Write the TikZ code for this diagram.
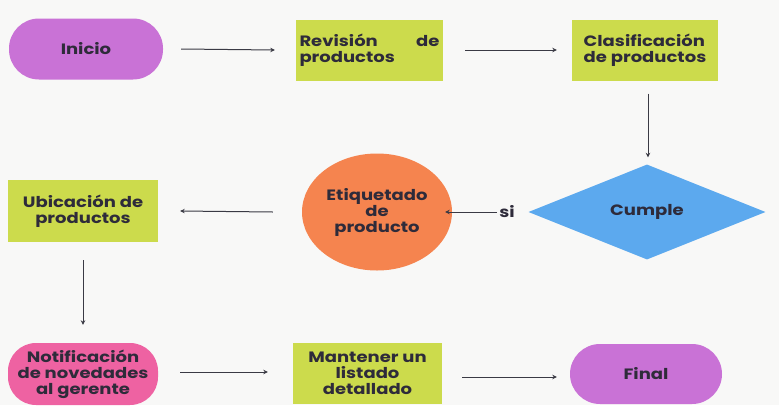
\documentclass[tikz,border=0pt]{standalone}
\usepackage{fontspec}
\setmainfont{Poppins}[FakeStretch=1.2]
\usetikzlibrary{shapes.geometric,arrows.meta}
\definecolor{bgc}{HTML}{F8F8F7}
\definecolor{purp}{HTML}{C972D6}
\definecolor{pinkc}{HTML}{EE62A2}
\definecolor{limec}{HTML}{CCDB4C}
\definecolor{orangec}{HTML}{F5844F}
\definecolor{bluec}{HTML}{5CA9EE}
\definecolor{txt}{HTML}{2E2B3A}
\definecolor{linec}{HTML}{3A3A44}
\begin{document}
\begin{tikzpicture}[x=1pt,y=-1pt,
  every node/.style={font=\fontsize{15}{16}\selectfont\bfseries, text=txt, inner sep=0pt},
  stadium/.style={draw=none, rectangle, rounded corners=30pt, minimum height=61pt},
  boxc/.style={draw=none, fill=limec, rectangle, minimum height=61pt},
  arr/.style={draw=linec, line width=1pt, -{Stealth[length=4.5pt,width=4.5pt]}}]
\fill[bgc] (0,0) rectangle (779,405);
\useasboundingbox (0,0) rectangle (779,405);

\node[stadium, fill=purp, minimum width=154pt] (inicio) at (86,49) {Inicio};
\node[boxc, minimum width=147pt] (revision) at (369.5,50) {\parbox{140pt}{Revisión\hfill de\\productos}};
\node[boxc, minimum width=146pt, align=left] (clasif) at (645,50) {Clasificación\\de productos};
\node[diamond, fill=bluec, minimum width=237pt, minimum height=95pt, shape aspect=2.5] (cumple) at (647,212) {Cumple};
\node (si) at (507,212) {si};
\node[ellipse, fill=orangec, minimum width=150pt, minimum height=117pt, align=center] (etiq) at (377,212) {Etiquetado\\de\\producto};
\node[boxc, minimum width=150pt, minimum height=62pt, align=center] (ubic) at (83,211) {Ubicación de\\productos};
\node[stadium, fill=pinkc, minimum width=150pt, minimum height=62pt, rounded corners=28pt, align=center] (notif) at (83,374) {Notificación\\de novedades\\al gerente};
\node[boxc, minimum width=149pt, align=center] (mant) at (367.5,373) {Mantener un\\listado\\detallado};
\node[stadium, fill=purp, minimum width=152pt, minimum height=60pt] (final) at (646,374) {Final};

\draw[arr] ([xshift=18pt]inicio.east) -- ([xshift=-21pt]revision.west);
\draw[arr] ([xshift=22pt]revision.east) -- ([xshift=-15pt]clasif.west);
\draw[arr] ([xshift=3pt,yshift=-13pt]clasif.south) -- ([xshift=1pt,yshift=7pt]cumple.north);
\draw[arr] ([xshift=-10pt]si.center) -- ([xshift=-7pt]etiq.east);
\draw[arr] ([xshift=-29pt]etiq.west) -- ([xshift=22pt]ubic.east);
\draw[arr] ([yshift=-18pt]ubic.south) -- ([yshift=18pt]notif.north);
\draw[arr] ([xshift=22pt,yshift=2pt]notif.east) -- ([xshift=-25pt,yshift=1pt]mant.west);
\draw[arr] ([xshift=20pt,yshift=-4pt]mant.east) -- ([xshift=-13pt,yshift=-3pt]final.west);
\end{tikzpicture}
\end{document}
